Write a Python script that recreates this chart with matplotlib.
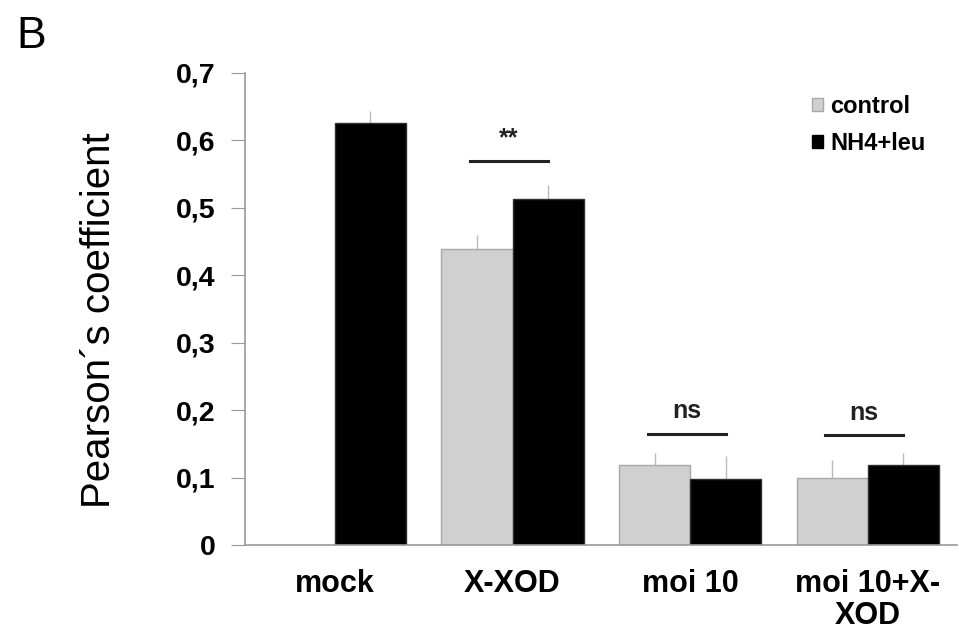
import matplotlib
matplotlib.use("Agg")
import matplotlib.pyplot as plt
import numpy as np
from matplotlib.patches import Patch

categories = ["mock", "X-XOD", "moi 10", "moi 10+X-\nXOD"]
control = [0.0, 0.439, 0.119, 0.099]
control_err = [0.0, 0.021, 0.018, 0.027]
nh4 = [0.625, 0.513, 0.098, 0.119]
nh4_err = [0.018, 0.021, 0.034, 0.018]
series_names = ["control", "NH4+leu"]
yticks = [0, 0.1, 0.2, 0.3, 0.4, 0.5, 0.6, 0.7]
ytick_labels = ["0", "0,1", "0,2", "0,3", "0,4", "0,5", "0,6", "0,7"]
sig_groups = [1, 2, 3]
sig_labels = ["**", "ns", "ns"]
sig_heights = [0.57, 0.165, 0.163]

plt.rcParams['font.family'] = ['Liberation Sans', 'DejaVu Sans']

fig = plt.figure(figsize=(9.59, 6.39), dpi=100)
ax = fig.add_axes([0.2555, 0.147, 0.742, 0.739])

x = np.arange(len(categories))
w = 0.4
ctrl_mask = [i for i in range(len(control)) if control[i] > 0]
ax.bar(x[ctrl_mask] - w / 2, np.array(control)[ctrl_mask], w, color="#d0d0d0",
       edgecolor="#a8a8a8", linewidth=1, zorder=2)
ax.bar(x + w / 2, nh4, w, color="black", edgecolor="#303030", linewidth=1, zorder=2)

ax.errorbar(x[ctrl_mask] - w / 2, np.array(control)[ctrl_mask],
            yerr=[np.zeros(len(ctrl_mask)), np.array(control_err)[ctrl_mask]],
            fmt="none", ecolor="#bbbbbb", elinewidth=1, capsize=0, zorder=1)
ax.errorbar(x + w / 2, nh4, yerr=[np.zeros(len(nh4)), nh4_err],
            fmt="none", ecolor="#bbbbbb", elinewidth=1, capsize=0, zorder=1)

for g, lab, h in zip(sig_groups, sig_labels, sig_heights):
    ax.plot([g - 0.24, g + 0.2], [h, h], color="#222222", lw=2.2, clip_on=False)
    ax.text(g - 0.02, h + 0.033, lab, ha="center", va="center",
            fontsize=18, fontweight="bold", color="#222222")

ax.set_xlim(-0.506, 3.5)
ax.set_ylim(0, 0.7)
ax.set_yticks(yticks)
ax.set_yticklabels(ytick_labels, fontsize=20.5, fontweight="bold")
ax.set_xticks(x)
ax.set_xticklabels(categories, fontsize=22, fontweight="bold", linespacing=1.12)
ax.tick_params(axis="x", length=0, pad=17)
ax.tick_params(axis="y", length=10, direction="out", color="#999999", pad=11)
for s in ["top", "right"]:
    ax.spines[s].set_visible(False)
for s in ["left", "bottom"]:
    ax.spines[s].set_color("#999999")
    ax.spines[s].set_linewidth(1.2)

ax.set_ylabel("Pearson´s coefficient", fontsize=29)
ax.yaxis.set_label_coords(-0.178, 0.477)

handles = [Patch(facecolor="#d0d0d0", edgecolor="#a8a8a8"),
           Patch(facecolor="black", edgecolor="black")]
ax.legend(handles, series_names, loc="upper left", bbox_to_anchor=(0.774, 0.988),
          frameon=False, prop={"weight": "bold", "size": 17},
          handlelength=0.45, handleheight=0.45, handletextpad=0.3, labelspacing=0.6,
          borderaxespad=0.3)

fig.text(0.033, 0.943, "B", fontsize=32, ha="center", va="center")

fig.savefig("out.png", dpi=100, facecolor="white")
